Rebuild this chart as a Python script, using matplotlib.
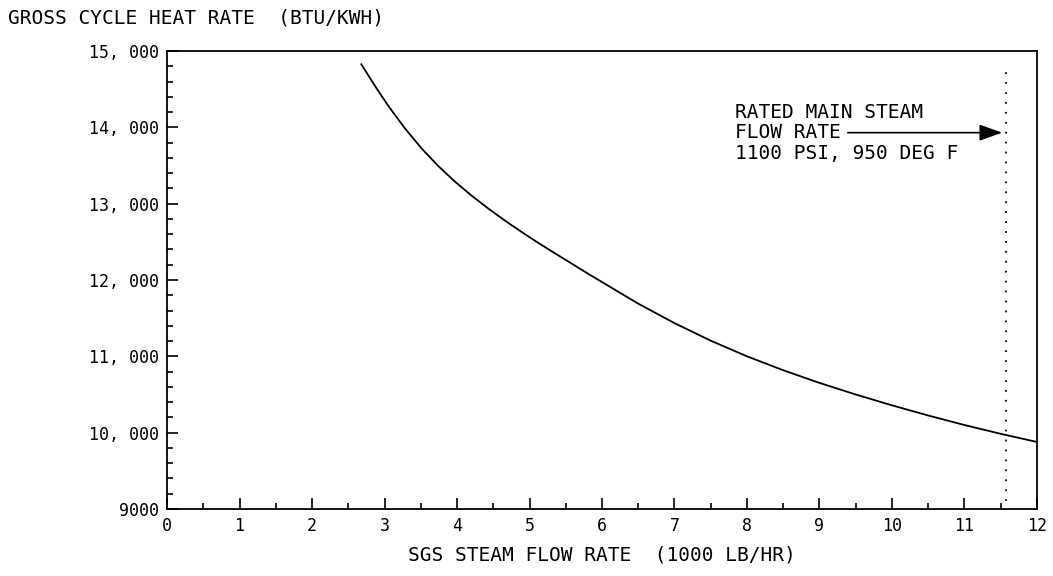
import matplotlib
matplotlib.use('Agg')
import matplotlib.pyplot as plt

plt.rcParams['font.family'] = ['DejaVu Sans Mono']

# heat rate curve
flow = [2.68, 2.87, 3.05, 3.28, 3.51, 3.74, 3.97, 4.20, 4.43, 4.66, 4.89, 5.12,
        5.35, 5.58, 5.81, 6.04, 6.5, 7.0, 7.5, 8.0, 8.5, 9.0, 9.5, 10.0, 10.5,
        11.0, 11.5, 12.0]
heat_rate = [14826, 14540, 14284, 13988, 13725, 13494, 13290, 13106, 12937, 12779,
             12630, 12487, 12350, 12216, 12081, 11950, 11690, 11435, 11205, 11000,
             10818, 10652, 10500, 10358, 10225, 10100, 9985, 9878]

rated_flow = 11.57
arrow_y = 13930

x_ticks = [0, 1, 2, 3, 4, 5, 6, 7, 8, 9, 10, 11, 12]
y_ticks = [9000, 10000, 11000, 12000, 13000, 14000, 15000]
y_tick_labels = ['9000', '10, 000', '11, 000', '12, 000', '13, 000', '14, 000', '15, 000']
note_lines = ['RATED MAIN STEAM', 'FLOW RATE', '1100 PSI, 950 DEG F']

fig = plt.figure(figsize=(10.53, 5.76), dpi=100)
ax = fig.add_axes([0.1586, 0.1163, 0.8262, 0.7952])

ax.plot(flow, heat_rate, color='black', lw=1.3)

# rated flow marker
ax.plot([rated_flow, rated_flow], [9100, 14750], color='black', lw=1.3, ls=(0, (1, 4.5)))
ax.annotate('', xy=(rated_flow - 0.05, arrow_y), xytext=(9.39, arrow_y),
            arrowprops=dict(arrowstyle='-|>,head_length=1.4,head_width=0.5',
                            color='black', lw=1.2, shrinkA=0, shrinkB=0))
for yy, line in zip([14190, 13928, 13654], note_lines):
    ax.text(7.83, yy, line, fontsize=14, va='center', ha='left')

ax.set_xlim(0, 12)
ax.set_ylim(9000, 15000)
ax.set_xticks(x_ticks)
ax.set_xticks([v + 0.5 for v in x_ticks[:-1]], minor=True)
ax.set_yticks(y_ticks)
ax.set_yticklabels(y_tick_labels)
ax.set_yticks([v for v in range(9000, 15000, 200) if v % 1000], minor=True)

ax.tick_params(which='both', direction='in', top=False, right=False, labelsize=12, width=1.2)
ax.tick_params(which='major', length=8, pad=6)
ax.tick_params(which='minor', length=4)
for s in ax.spines.values():
    s.set_linewidth(1.3)

ax.set_xlabel('SGS STEAM FLOW RATE  (1000 LB/HR)', fontsize=14, labelpad=7)
fig.text(0.0076, 0.968, 'GROSS CYCLE HEAT RATE  (BTU/KWH)', fontsize=14, va='center', ha='left')

plt.savefig('out.png', dpi=100)
